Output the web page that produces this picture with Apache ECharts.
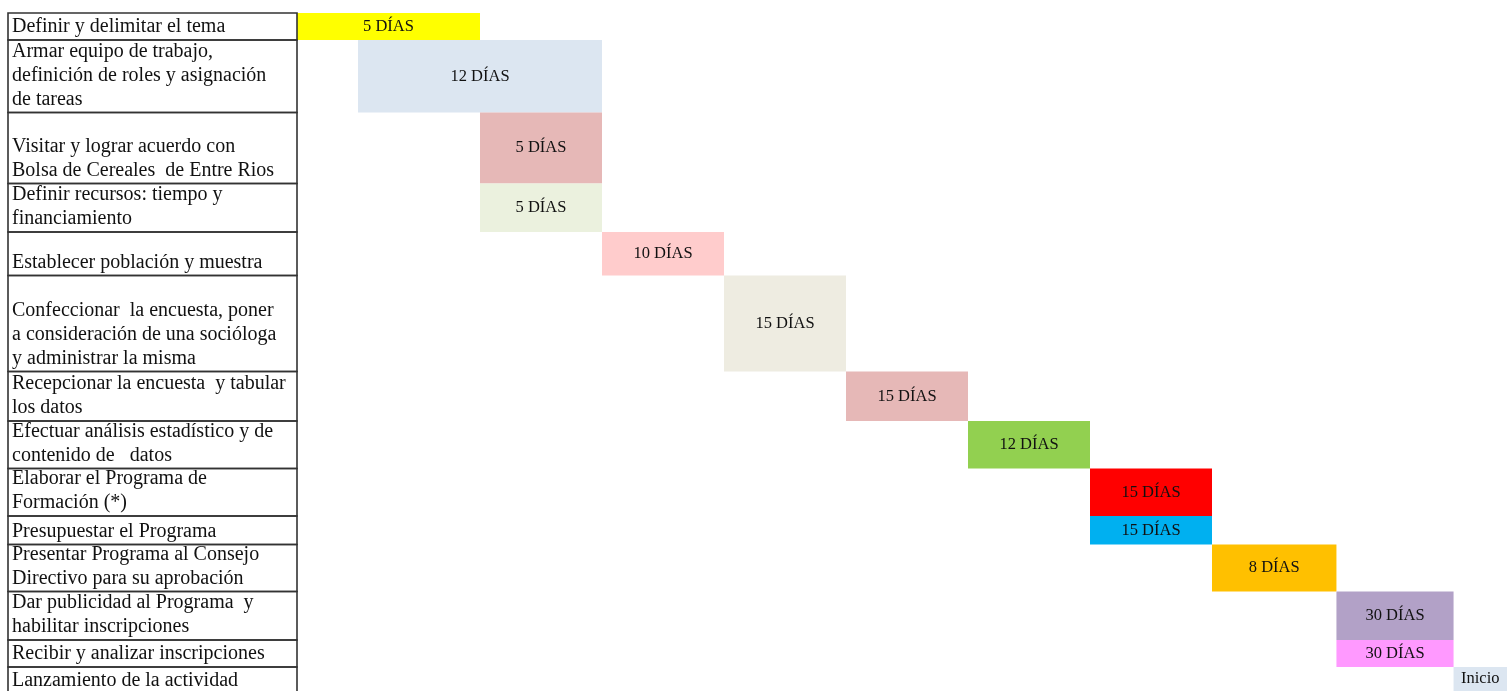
<!DOCTYPE html>
<html>
<head>
<meta charset="utf-8">
<script src="https://cdn.jsdelivr.net/npm/echarts@6/dist/echarts.min.js"></script>
<style>
html,body{margin:0;padding:0;background:#fff;}
#chart{width:1507px;height:691px;}
</style>
</head>
<body>
<div id="chart"></div>
<script>
// ---- DATA ----
const tasks = [
  'Definir y delimitar el tema',
  'Armar equipo de trabajo,\ndefinición de roles y asignación\nde tareas',
  'Visitar y lograr acuerdo con\nBolsa de Cereales  de Entre Rios',
  'Definir recursos: tiempo y\nfinanciamiento',
  'Establecer población y muestra',
  'Confeccionar  la encuesta, poner\na consideración de una socióloga\ny administrar la misma',
  'Recepcionar la encuesta  y tabular\nlos datos',
  'Efectuar análisis estadístico y de\ncontenido de   datos',
  'Elaborar el Programa de\nFormación (*)',
  'Presupuestar el Programa',
  'Presentar Programa al Consejo\nDirectivo para su aprobación',
  'Dar publicidad al Programa  y\nhabilitar inscripciones',
  'Recibir y analizar inscripciones',
  'Lanzamiento de la actividad'
];
const durations = ['5 DÍAS','12 DÍAS','5 DÍAS','5 DÍAS','10 DÍAS','15 DÍAS','15 DÍAS','12 DÍAS','15 DÍAS','15 DÍAS','8 DÍAS','30 DÍAS','30 DÍAS','Inicio'];
// start / end of each bar, in schedule columns
const barStart = [0, 0.5, 1.5, 1.5, 2.5, 3.5, 4.5, 5.5, 6.5, 6.5, 7.5, 8.52, 8.52, 9.48];
const barEnd   = [1.5, 2.5, 2.5, 2.5, 3.5, 4.5, 5.5, 6.5, 7.5, 7.5, 8.52, 9.48, 9.48, 10];

// ---- LAYOUT / STYLE ----
const rowHeights = [27, 72.5, 71, 48.5, 43.5, 96, 49.5, 47.5, 47.5, 28.5, 47, 48.5, 27, 27];
const barColors = ['#FFFF00','#DCE6F1','#E6B8B7','#EBF1DE','#FFCCCC','#EEECE1','#E6B8B7','#92D050','#FF0000','#00B0F0','#FFC000','#B2A1C7','#FF99FF','#DCE6F1'];
const serif = '"Liberation Serif","Times New Roman",serif';
const colPx = 122;      // width of one schedule column
const gridLeft = 297, gridTop = 13, pageW = 1507, pageH = 691;

const cum = [0];
rowHeights.forEach(h => cum.push(cum[cum.length - 1] + h));
const visH = pageH - gridTop;   // visible part of the table (last row runs off page)
const visW = pageW - gridLeft;

const tableData = tasks.map((t, i) => [i, t]);
const barData = durations.map((d, i) => [barStart[i], barEnd[i], i, d]);

const chart = echarts.init(document.getElementById('chart'), null, {renderer: 'canvas'});
chart.setOption({
  animation: false,
  grid: [
    {left: 8, top: gridTop, width: gridLeft - 8, height: visH},
    {left: gridLeft, top: gridTop, width: visW, height: visH}
  ],
  xAxis: [
    {gridIndex: 0, type: 'value', min: 0, max: 1, show: false},
    {gridIndex: 1, type: 'value', min: 0, max: visW / colPx, show: false}
  ],
  yAxis: [
    {gridIndex: 0, type: 'value', min: 0, max: visH, inverse: true, show: false},
    {gridIndex: 1, type: 'value', min: 0, max: visH, inverse: true, show: false}
  ],
  series: [
    {
      type: 'custom',
      xAxisIndex: 1, yAxisIndex: 1,
      clip: false,
      data: barData,
      renderItem: function (params, api) {
        const i = api.value(2);
        const p0 = api.coord([api.value(0), cum[i]]);
        const p1 = api.coord([api.value(1), cum[i + 1]]);
        return {
          type: 'group',
          children: [
            {type: 'rect', shape: {x: p0[0], y: p0[1], width: p1[0] - p0[0], height: p1[1] - p0[1]},
             style: {fill: barColors[i]}},
            {type: 'text', style: {text: durations[i], x: (p0[0] + Math.min(p1[0], pageW)) / 2, y: (p0[1] + Math.min(p1[1], pageH)) / 2,
              align: 'center', verticalAlign: 'middle', font: '16.5px ' + serif, fill: '#111'}}
          ]
        };
      }
    },
    {
      type: 'custom',
      xAxisIndex: 0, yAxisIndex: 0,
      clip: false,
      data: tableData,
      renderItem: function (params, api) {
        const i = api.value(0);
        const p0 = api.coord([0, cum[i]]);
        const p1 = api.coord([1, cum[i + 1]]);
        return {
          type: 'group',
          children: [
            {type: 'rect', shape: {x: p0[0], y: p0[1], width: p1[0] - p0[0], height: p1[1] - p0[1]},
             style: {fill: 'none', stroke: '#333', lineWidth: 1.6}},
            {type: 'text', style: {text: tasks[i], x: p0[0] + 4, y: p1[1] - 1,
              align: 'left', verticalAlign: 'bottom', lineHeight: 24,
              font: '20px ' + serif, fill: '#111'}}
          ]
        };
      }
    }
  ]
});
</script>
</body>
</html>
